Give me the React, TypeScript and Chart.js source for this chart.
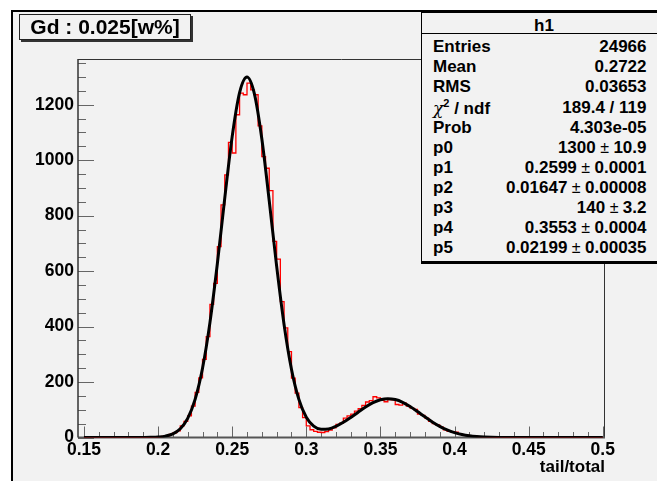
import React, { useEffect, useRef } from "react";
import { Chart, registerables } from "chart.js";

Chart.register(...registerables);

// ---- data ----
const histLow = 0.15;
const binWidth = 0.0025;
const counts = [
  0, 0, 0, 0, 0, 0, 0, 0, 0, 0,
  0, 0, 0, 0, 0, 0, 0, 0, 1, 1,
  2, 4, 6, 11, 17, 24, 42, 58, 78, 113,
  163, 215, 282, 364, 480, 556, 688, 839, 947, 1064,
  1026, 1164, 1242, 1236, 1278, 1254, 1236, 1124, 1013, 971,
  890, 707, 643, 490, 395, 310, 214, 160, 108, 72,
  42, 28, 22, 19, 18, 21, 27, 35, 47, 52,
  70, 78, 84, 95, 104, 116, 128, 133, 147, 143,
  134, 129, 137, 136, 119, 117, 124, 113, 106, 101,
  84, 80, 70, 58, 50, 45, 37, 28, 22, 20,
  19, 13, 9, 8, 5, 4, 3, 2, 2, 1,
  1, 0, 1, 0, 0, 0, 0, 0, 0, 0,
  0, 0, 0, 0, 0, 0, 0, 0, 0, 0,
  0, 0, 0, 0, 0, 0, 0, 0, 0, 0,
];

const fitLow = 0.15;
const fitStep = 0.005;
const fitValues = [
  0, 0, 0, 0, 0, 0, 0.01, 0.04, 0.16, 0.55,
  1.74, 5.0, 13.2, 31.6, 69.1, 137.7, 249.9, 414.4, 626.5, 863.3,
  1085.1, 1243.7, 1300.0, 1239.1, 1077.2, 853.8, 617.8, 407.8, 246.4, 137.4,
  73.0, 40.8, 29.5, 30.9, 40.3, 54.7, 72.4, 91.4, 109.9, 125.5,
  136.0, 140.0, 136.8, 127.0, 112.0, 93.7, 74.5, 56.2, 40.3, 27.4,
  17.7, 10.9, 6.3, 3.5, 1.8, 0.9, 0.4, 0.2, 0.08, 0.03,
  0.01, 0, 0, 0, 0, 0, 0, 0, 0, 0, 0,
];

const xTicks = [0.15, 0.2, 0.25, 0.3, 0.35, 0.4, 0.45, 0.5];
const xTickLabels = ["0.15", "0.2", "0.25", "0.3", "0.35", "0.4", "0.45", "0.5"];
const yTicks = [0, 200, 400, 600, 800, 1000, 1200];
const yTickLabels = ["0", "200", "400", "600", "800", "1000", "1200"];

const titleText = "Gd : 0.025[w%]";
const statsName = "h1";
const statsLabels = ["Entries", "Mean", "RMS", "CHI2", "Prob", "p0", "p1", "p2", "p3", "p4", "p5"];
const statsValues: [string, string | null][] = [
  ["24966", null],
  ["0.2722", null],
  ["0.03653", null],
  ["189.4 / 119", null],
  ["4.303e-05", null],
  ["1300", "10.9"],
  ["0.2599", "0.0001"],
  ["0.01647", "0.00008"],
  ["140", "3.2"],
  ["0.3553", "0.0004"],
  ["0.02199", "0.00035"],
];
const xAxisTitle = "tail/total";

const FONT = '"Liberation Sans", Arial, Helvetica, sans-serif';

const bgPlugin = {
  id: "rootBg",
  beforeDraw(chart: any) {
    const ctx = chart.ctx;
    ctx.save();
    ctx.fillStyle = "#ffffff";
    ctx.fillRect(0, 0, chart.width, chart.height);
    ctx.fillStyle = "#f2f2f2";
    ctx.fillRect(12, 11, chart.width - 12, chart.height - 11);
    ctx.strokeStyle = "#000000";
    ctx.lineWidth = 2;
    ctx.beginPath();
    ctx.moveTo(12, chart.height);
    ctx.lineTo(12, 11);
    ctx.lineTo(chart.width, 11);
    ctx.stroke();
    ctx.restore();
  },
  beforeDatasetsDraw(chart: any) {
    const ctx = chart.ctx;
    const { left, right, top, bottom } = chart.chartArea;
    const xs = chart.scales.x;
    const ys = chart.scales.y;
    ctx.save();
    // frame top / right
    ctx.strokeStyle = "#333333";
    ctx.lineWidth = 1;
    ctx.beginPath();
    ctx.moveTo(left, top + 0.5);
    ctx.lineTo(right, top + 0.5);
    ctx.moveTo(right - 0.5, top);
    ctx.lineTo(right - 0.5, bottom);
    ctx.stroke();
    // ticks
    ctx.strokeStyle = "#666666";
    ctx.lineWidth = 1;
    ctx.beginPath();
    for (let i = 0; i <= 35; i++) {
      const v = 0.15 + i * 0.01;
      const px = Math.round(xs.getPixelForValue(v)) + 0.5;
      const len = i % 5 === 0 ? 11 : 5.5;
      ctx.moveTo(px, bottom);
      ctx.lineTo(px, bottom - len);
    }
    for (let i = 0; i <= 27; i++) {
      const v = i * 50;
      const py = Math.round(ys.getPixelForValue(v)) + 0.5;
      const len = i % 4 === 0 ? 16 : 8;
      ctx.moveTo(left, py);
      ctx.lineTo(left + len, py);
    }
    ctx.stroke();
    // axis lines
    ctx.strokeStyle = "#555555";
    ctx.lineWidth = 2;
    ctx.beginPath();
    ctx.moveTo(left, bottom);
    ctx.lineTo(right, bottom);
    ctx.stroke();
    ctx.strokeStyle = "#333333";
    ctx.lineWidth = 1.5;
    ctx.beginPath();
    ctx.moveTo(left, top);
    ctx.lineTo(left, bottom);
    ctx.stroke();
    ctx.restore();
  },
};

function App() {
  const canvasRef = useRef<HTMLCanvasElement | null>(null);

  useEffect(() => {
    const canvas = canvasRef.current;
    if (!canvas) return;
    const histPoints = counts.map((c, k) => ({ x: histLow + k * binWidth, y: c }));
    histPoints.push({ x: histLow + counts.length * binWidth, y: 0 });
    const fitPoints = fitValues.map((v, i) => ({ x: fitLow + i * fitStep, y: v }));
    const tickFont = { family: FONT, size: 17.5, weight: "bold" as const };

    const chart = new Chart(canvas, {
      type: "line",
      data: {
        datasets: [
          {
            label: "fit",
            data: fitPoints,
            borderColor: "#000000",
            borderWidth: 3,
            pointRadius: 0,
            cubicInterpolationMode: "monotone",
            fill: false,
            order: 0,
          },
          {
            label: statsName,
            data: histPoints,
            borderColor: "#ff0000",
            borderWidth: 1.3,
            pointRadius: 0,
            stepped: "before",
            fill: false,
            order: 1,
          },
        ],
      },
      options: {
        animation: false,
        responsive: false,
        events: [],
        layout: { padding: { left: 0, top: 59, right: 52, bottom: 0 } },
        plugins: {
          legend: { display: false },
          tooltip: { enabled: false },
        },
        scales: {
          x: {
            type: "linear",
            min: 0.146,
            max: 0.5015,
            afterFit: (s: any) => {
              s.height = 43.5;
            },
            afterBuildTicks: (s: any) => {
              s.ticks = xTicks.map((v) => ({ value: v }));
            },
            grid: { display: false, drawTicks: false },
            border: { display: false },
            ticks: {
              autoSkip: false,
              maxRotation: 0,
              padding: 2,
              color: "#000000",
              font: tickFont,
              callback: (_v: any, i: number) => xTickLabels[i],
            },
            title: {
              display: true,
              text: xAxisTitle,
              align: "end",
              color: "#000000",
              font: { family: FONT, size: 17, weight: "bold" as const },
              padding: { top: 0, bottom: 3 },
            },
          },
          y: {
            type: "linear",
            min: 0,
            max: 1365,
            afterFit: (s: any) => {
              s.width = 78;
            },
            afterBuildTicks: (s: any) => {
              s.ticks = yTicks.map((v) => ({ value: v }));
            },
            grid: { display: false, drawTicks: false },
            border: { display: false },
            ticks: {
              autoSkip: false,
              padding: 4,
              color: "#000000",
              font: tickFont,
              callback: (_v: any, i: number) => yTickLabels[i],
            },
          },
        },
      },
      plugins: [bgPlugin],
    } as any);
    return () => chart.destroy();
  }, []);

  const rowTop = (i: number) => 37.2 + 20.1 * i;

  return (
    <div style={{ position: "absolute", left: 0, top: 0, width: 657, height: 481, overflow: "hidden" }}>
      <canvas ref={canvasRef} width={657} height={481} style={{ display: "block", width: 657, height: 481 }} />
      {/* title box */}
      <div
        style={{
          position: "absolute",
          left: 19,
          top: 14,
          width: 170,
          height: 24,
          border: "1px solid #222",
          boxShadow: "2px 2px 0 #333",
          background: "#f2f2f2",
          fontFamily: FONT,
          fontWeight: "bold",
          fontSize: 21,
          lineHeight: "24px",
          textAlign: "center",
          color: "#000",
          whiteSpace: "nowrap",
        }}
      >
        {titleText}
      </div>
      {/* stats box */}
      <div
        style={{
          position: "absolute",
          left: 421,
          top: 12,
          width: 240,
          height: 248,
          border: "1px solid #000",
          borderBottom: "3px solid #000",
          background: "#f2f2f2",
        }}
      />
      <div style={{ position: "absolute", left: 422, top: 33, width: 240, height: 1, background: "#000" }} />
      <div
        style={{
          position: "absolute",
          left: 422,
          top: 16,
          width: 244,
          textAlign: "center",
          fontFamily: FONT,
          fontWeight: "bold",
          fontSize: 17,
          lineHeight: "20px",
          color: "#000",
        }}
      >
        {statsName}
      </div>
      {statsLabels.map((lab, i) => (
        <div
          key={lab}
          style={{
            position: "absolute",
            left: 433,
            top: rowTop(i),
            width: 213.5,
            height: 20,
            display: "flex",
            justifyContent: "space-between",
            fontFamily: FONT,
            fontWeight: "bold",
            fontSize: 17,
            lineHeight: "20px",
            color: "#000",
            whiteSpace: "nowrap",
          }}
        >
          <span>
            {lab === "CHI2" ? (
              <>
                <span style={{ fontWeight: "normal", fontStyle: "italic", fontFamily: '"DejaVu Serif", serif' }}>χ</span>
                <sup style={{ fontSize: 11, lineHeight: 0 }}>2</sup> / ndf
              </>
            ) : (
              lab
            )}
          </span>
          <span>
            {statsValues[i][0]}
            {statsValues[i][1] !== null ? (
              <>
                <span style={{ fontWeight: "normal", fontSize: 16 }}> ± </span>
                {statsValues[i][1]}
              </>
            ) : null}
          </span>
        </div>
      ))}
    </div>
  );
}

export default App;
